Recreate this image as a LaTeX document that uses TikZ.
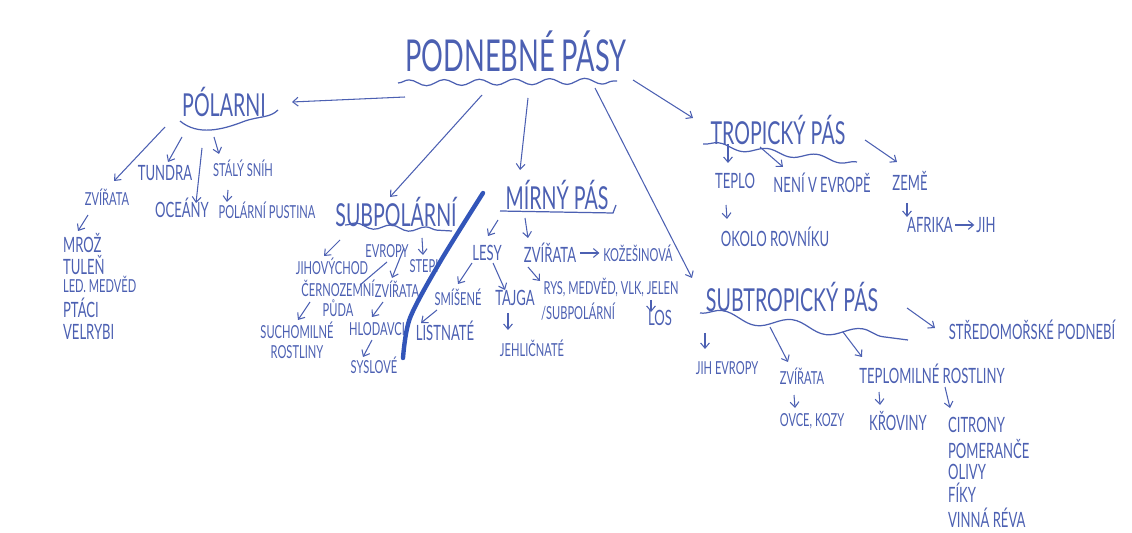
\documentclass[tikz,border=0pt]{standalone}
\usepackage{fontspec}
\setmainfont{Lato}[FakeStretch=0.62]
\usetikzlibrary{arrows.meta, decorations.pathmorphing}
\definecolor{ink}{RGB}{76,96,178}
\definecolor{ink2}{RGB}{50,85,185}

\begin{document}
\begin{tikzpicture}[x=0.02cm, y=-0.02cm, every node/.style={text=ink, inner sep=1pt},
	pasytext/.style={font=\fontsize{25}{27}\selectfont},
	band/.style={font=\fontsize{18}{20}\selectfont},
	item/.style={font=\fontsize{12}{14}\selectfont},
	note/.style={font=\fontsize{10.2}{11.5}\selectfont},
	arr/.style={draw=ink, line width=0.6pt, -{Straight Barb[length=3pt, width=5pt]}},
	link/.style={draw=ink, line width=0.6pt},
	wavy/.style={draw=ink, line width=0.7pt, decorate, decoration={snake, amplitude=1.7pt, segment length=#1}},
	wavy/.default=20pt,
	scrawl/.style={draw=ink2, line width=2.5pt, line cap=round, line join=round}]
	
	\useasboundingbox (0,0) rectangle (1132,533);
	
	% Hlavní téma
	\node[pasytext] (pasy) at (516,51) {PODNEBNÉ PÁSY};
	\draw[wavy] (398,83) -- (617,81);
	
	% Polární pás
	\node[band] (polar) at (224,102) {PÓLARNI};
	\draw[ink, line width=0.7pt] (180,121) .. controls (198,136) and (222,130) .. (245,121) .. controls (260,116) and (270,118) .. (278,110);
	\node[item] (tundra) at (165,173) {TUNDRA};
	\node[note] (snih) at (243,168) {STÁLÝ SNÍH};
	\node[note] (zvirata1) at (107,197) {ZVÍŘATA};
	\node[item] (oceany) at (182,208) {OCEÁNY};
	\node[note] (pustina) at (267,210) {POLÁRNÍ PUSTINA};
	\node[item, anchor=west] (mroz) at (61,243) {MROŽ};
	\node[item, anchor=west] (tulen) at (61,265) {TULEŇ};
	\node[note, anchor=west] (medved) at (61,284) {LED. MEDVĚD};
	\node[item, anchor=west] (ptaci) at (61,308) {PTÁCI};
	\node[item, anchor=west] (velryby) at (61,332) {VELRYBI};
	\draw[arr] ([shift={(-111,46)}]pasy.center) -- ([shift={(68,0)}]polar.center);
	\draw[arr] ([shift={(-59,25)}]polar.center) -- ([shift={(7,-16)}]zvirata1.center);
	\draw[arr] ([shift={(-42,35)}]polar.center) -- ([shift={(3,-11)}]tundra.center);
	\draw[arr] ([shift={(-22,46)}]polar.center) -- ([shift={(14,-5)}]oceany.center);
	\draw[arr] ([shift={(-10,35)}]polar.center) -- ([shift={(-24,-14)}]snih.center);
	\draw[arr] ([shift={(-15,22)}]snih.center) -- ([shift={(-40,-8)}]pustina.center);
	\draw[arr] ([shift={(-19,18)}]zvirata1.center) -- ([shift={(17,-12)}]mroz.west);
	
	% Subpolární pás
	\node[band] (subpolar) at (396,212) {SUBPOLÁRNÍ};
	\draw[wavy=20pt, decoration={amplitude=1.5pt}] (345,225) -- (452,231);
	\node[note] (jihovychod) at (332,266) {JIHOVÝCHOD};
	\node[note] (evropy) at (387,251) {EVROPY};
	\node[note] (stepi) at (424,266) {STEPI};
	\node[note, align=center] (cernozem) at (338,298) {ČERNOZEMNÍ\\PŮDA};
	\node[note] (zvirata2) at (397,289) {ZVÍŘATA};
	\node[note, align=center] (suchomilne) at (297,340) {SUCHOMILNÉ\\ROSTLINY};
	\node[note] (hlodavci) at (377,329) {HLODAVCI};
	\node[note] (syslove) at (374,365) {SYSLOVÉ};
	\draw[arr] ([shift={(-34,44)}]pasy.center) -- ([shift={(-6,-15)}]subpolar.center);
	\draw[arr] ([shift={(-56,28)}]subpolar.center) -- ([shift={(-8,-10)}]jihovychod.center);
	\draw[arr] ([shift={(26,26)}]subpolar.center) -- ([shift={(-1,-11)}]stepi.center);
	\draw[arr] ([shift={(8,36)}]subpolar.center) -- ([shift={(-5,-11)}]zvirata2.center);
	\draw[link] ([shift={(0,11)}]evropy.center) -- ([shift={(22,-13)}]cernozem.center);
	\draw[arr] ([shift={(-28,4)}]cernozem.center) -- ([shift={(1,-20)}]suchomilne.center);
	\draw[arr] ([shift={(-14,13)}]zvirata2.center) -- ([shift={(-5,-12)}]hlodavci.center);
	\draw[arr] ([shift={(-5,11)}]hlodavci.center) -- ([shift={(-11,-8)}]syslove.center);
	
	\draw[scrawl] plot[smooth] coordinates {(483,193) (440,262) (410,318) (403,358)};
	
	% Mírný pás
	\node[band] (mirny) at (557,195) {MÍRNÝ PÁS};
	\draw[ink, line width=0.7pt] (500,211) -- (613,213) -- (616,205);
	\node[item] (lesy) at (487,253) {LESY};
	\node[item] (zvirata3) at (550,253) {ZVÍŘATA};
	\node[note] (kozesinova) at (638,253) {KOŽEŠINOVÁ};
	\node[note] (rys) at (611,288) {RYS, MEDVĚD, VLK, JELEN};
	\node[note] (subpolarni2) at (578,312) {/SUBPOLÁRNÍ};
	\node[item] (los) at (660,318) {LOS};
	\node[note] (smisene) at (458,297) {SMÍŠENÉ};
	\node[item] (tajga) at (515,298) {TAJGA};
	\node[item] (listnate) at (445,331) {LISTNATÉ};
	\node[note] (jehlicnate) at (532,348) {JEHLIČNATÉ};
	\draw[arr] ([shift={(12,47)}]pasy.center) -- ([shift={(-37,-25)}]mirny.center);
	\draw[arr] ([shift={(-59,25)}]mirny.center) -- ([shift={(1,-17)}]lesy.center);
	\draw[arr] ([shift={(-32,23)}]mirny.center) -- ([shift={(-22,-15)}]zvirata3.center);
	\draw[arr, shorten <=1pt, shorten >=1pt] (zvirata3.east) -- (kozesinova.west);
	\draw[arr] ([shift={(-22,14)}]zvirata3.center) -- ([shift={(-71,-7)}]rys.center);
	\draw[arr] ([shift={(40,12)}]rys.center) -- ([shift={(-9,-6)}]los.center);
	\draw[arr] ([shift={(-15,10)}]lesy.center) -- ([shift={(0,-13)}]smisene.center);
	\draw[arr] ([shift={(6,10)}]lesy.center) -- ([shift={(-10,-8)}]tajga.center);
	\draw[arr] ([shift={(-21,13)}]smisene.center) -- ([shift={(-24,-8)}]listnate.center);
	\draw[arr] ([shift={(-7,15)}]tajga.center) -- ([shift={(-24,-18)}]jehlicnate.center);
	
	% Tropický pás
	\node[band] (tropicky) at (778,130) {TROPICKÝ PÁS};
	\draw[wavy=28pt] (703,144) -- (857,162);
	\node[item] (teplo) at (735,181) {TEPLO};
	\node[item] (neni) at (822,183) {NENÍ V EVROPĚ};
	\node[item] (zeme) at (910,181) {ZEMĚ};
	\node[item] (okolo) at (775,237) {OKOLO ROVNÍKU};
	\node[item] (afrika) at (930,225) {AFRIKA};
	\node[item] (jih) at (986,225) {JIH};
	\draw[arr] ([shift={(117,29)}]pasy.center) -- ([shift={(-85,-12)}]tropicky.center);
	\draw[arr] ([shift={(-50,14)}]tropicky.center) -- ([shift={(-7,-18)}]teplo.center);
	\draw[arr] ([shift={(-18,17)}]tropicky.center) -- ([shift={(-39,-16)}]neni.center);
	\draw[arr] ([shift={(87,10)}]tropicky.center) -- ([shift={(-13,-19)}]zeme.center);
	\draw[arr] ([shift={(-9,24)}]teplo.center) -- ([shift={(-48,-18)}]okolo.center);
	\draw[arr] ([shift={(-3,22)}]zeme.center) -- ([shift={(-23,-8)}]afrika.center);
	\draw[arr] (afrika.east) -- (jih.west);
	
	% Subtropický pás
	\node[band] (subtrop) at (792,297) {SUBTROPICKÝ PÁS};
	\draw[wavy=40pt, decoration={amplitude=3pt}] (700,313) -- (908,340);
	\node[item] (stredomorske) at (1032,330) {STŘEDOMOŘSKÉ PODNEBÍ};
	\node[note] (jihevropy) at (727,368) {JIH EVROPY};
	\node[note] (zvirata4) at (802,376) {ZVÍŘATA};
	\node[item] (teplomilne) at (932,374) {TEPLOMILNÉ ROSTLINY};
	\node[note] (ovce) at (812,421) {OVCE, KOZY};
	\node[item] (kroviny) at (898,421) {KŘOVINY};
	\node[item, anchor=west] (citrony) at (946,425) {CITRONY};
	\node[item, anchor=west] (pomerance) at (946,449) {POMERANČE};
	\node[item, anchor=west] (olivy) at (946,472) {OLIVY};
	\node[item, anchor=west] (fiky) at (946,493) {FÍKY};
	\node[item, anchor=west] (vinna) at (946,518) {VINNÁ RÉVA};
	\draw[arr] ([shift={(79,37)}]pasy.center) -- ([shift={(-100,-19)}]subtrop.center);
	\draw[arr] ([shift={(115,11)}]subtrop.center) -- ([shift={(-97,-2)}]stredomorske.center);
	\draw[arr] ([shift={(-87,36)}]subtrop.center) -- ([shift={(-22,-19)}]jihevropy.center);
	\draw[arr] ([shift={(-22,30)}]subtrop.center) -- ([shift={(-14,-14)}]zvirata4.center);
	\draw[arr] ([shift={(51,35)}]subtrop.center) -- ([shift={(-70,-17)}]teplomilne.center);
	\draw[arr] ([shift={(-8,19)}]zvirata4.center) -- ([shift={(-17,-13)}]ovce.center);
	\draw[arr] ([shift={(-53,18)}]teplomilne.center) -- ([shift={(-18,-16)}]kroviny.center);
	\draw[arr] ([shift={(13,13)}]teplomilne.center) -- ([shift={(4,-17)}]citrony.west);
	
\end{tikzpicture}
\end{document}
